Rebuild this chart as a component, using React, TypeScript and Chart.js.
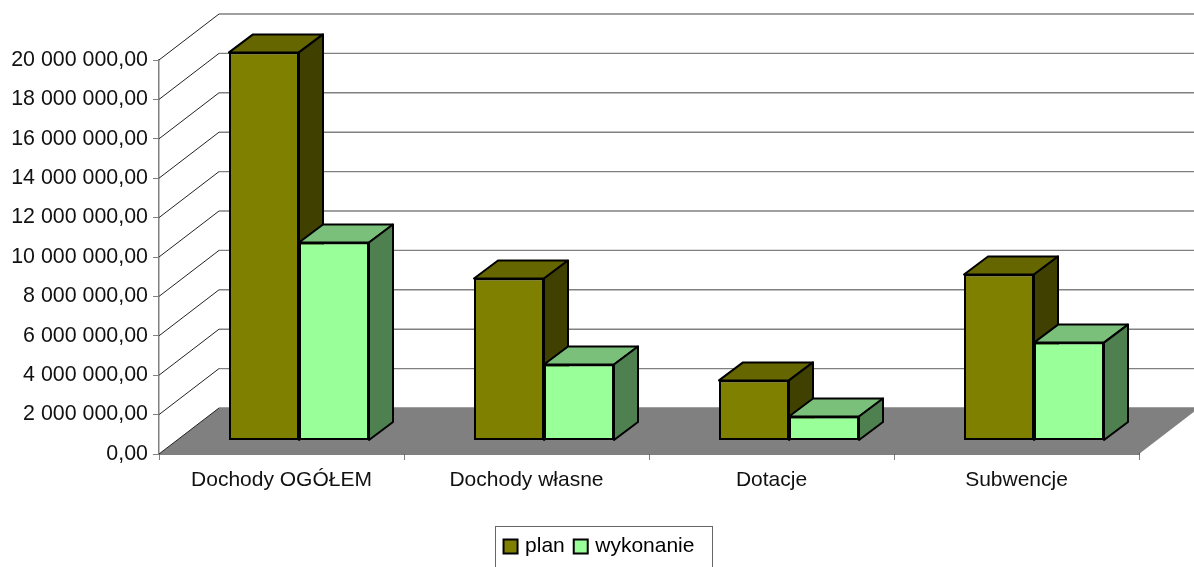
import React, { useEffect, useRef } from "react";
import { Chart, registerables } from "chart.js";

Chart.register(...registerables);

const categories = ["Dochody OGÓŁEM", "Dochody własne", "Dotacje", "Subwencje"];
const planValues = [19700000, 8220000, 3050000, 8430000];
const wykonanieValues = [10050000, 3860000, 1220000, 4970000];

const FONT = "'Liberation Sans', Arial, sans-serif";
const FONT_SIZE = 21;
const WALL_DX = 60;
const WALL_DY = 46;
const BAR_SHIFT_X = 17.5;
const BAR_SHIFT_Y = -13.5;
const BAR_DX = 24;
const BAR_DY = 18;
const BAR_LINE = 2;
const LEGEND_SHIFT = 31;
const faceColors = [
  { top: "#666600", side: "#404000" },
  { top: "#7ac07a", side: "#4f8050" },
];

const fmt = (v: number) => {
  const s = Math.round(v).toString().replace(/\B(?=(\d{3})+(?!\d))/g, " ");
  return s + ",00";
};

const poly = (ctx: CanvasRenderingContext2D, pts: number[][], fill?: string, stroke?: string, lw = 1) => {
  ctx.beginPath();
  pts.forEach((p, i) => (i ? ctx.lineTo(p[0], p[1]) : ctx.moveTo(p[0], p[1])));
  ctx.closePath();
  if (fill) {
    ctx.fillStyle = fill;
    ctx.fill();
  }
  if (stroke) {
    ctx.strokeStyle = stroke;
    ctx.lineWidth = lw;
    ctx.stroke();
  }
};

const walls3d = {
  id: "walls3d",
  afterLayout(chart: any) {
    chart.legend.left += LEGEND_SHIFT;
    chart.legend.right += LEGEND_SHIFT;
  },
  beforeDatasetsDraw(chart: any) {
    const { ctx, chartArea, scales } = chart;
    const { left, right, bottom } = chartArea;
    ctx.save();
    poly(
      ctx,
      [
        [left, bottom],
        [left + WALL_DX, bottom - WALL_DY],
        [right + WALL_DX, bottom - WALL_DY],
        [right, bottom],
      ],
      "#808080"
    );
    scales.y.ticks.forEach((t: any) => {
      const y = scales.y.getPixelForValue(t.value);
      ctx.strokeStyle = "#222222";
      ctx.lineWidth = 1;
      ctx.beginPath();
      ctx.moveTo(left, y);
      ctx.lineTo(left + WALL_DX, y - WALL_DY);
      ctx.stroke();
      ctx.strokeStyle = "#808080";
      ctx.lineWidth = 1.4;
      ctx.beginPath();
      ctx.moveTo(left + WALL_DX, y - WALL_DY);
      ctx.lineTo(chart.width, y - WALL_DY);
      ctx.stroke();
    });
    ctx.restore();

    // Bars: left bar of each pair first, so the right bar overlaps its side face.
    chart.data.datasets.forEach((_: any, index: number) => {
      const meta = chart.getDatasetMeta(index);
      const c = faceColors[index];
      ctx.save();
      ctx.translate(BAR_SHIFT_X, BAR_SHIFT_Y);
      ctx.lineJoin = "round";
      meta.data.forEach((el: any) => {
        const l = el.x - el.width / 2;
        const r = el.x + el.width / 2;
        const t = el.y;
        const b = el.base;
        poly(ctx, [[l, t], [l + BAR_DX, t - BAR_DY], [r + BAR_DX, t - BAR_DY], [r, t]], c.top, "#000", BAR_LINE);
        poly(ctx, [[r, t], [r + BAR_DX, t - BAR_DY], [r + BAR_DX, b - BAR_DY], [r, b]], c.side, "#000", BAR_LINE);
      });
      meta.controller.draw();
      ctx.restore();
    });
  },
  beforeDatasetDraw() {
    return false;
  },
  afterDraw(chart: any) {
    const { ctx } = chart;
    ctx.save();
    ctx.strokeStyle = "#666666";
    ctx.lineWidth = 1;
    ctx.strokeRect(495.5, 526.5, 217, 60);
    ctx.restore();
  },
};

export default function App() {
  const ref = useRef<HTMLCanvasElement>(null);
  useEffect(() => {
    const chart = new Chart(ref.current!, {
      type: "bar",
      data: {
        labels: categories,
        datasets: [
          {
            label: "plan",
            data: planValues,
            backgroundColor: "#808000",
            borderColor: "#000000",
            borderWidth: BAR_LINE,
            borderSkipped: false,
          },
          {
            label: "wykonanie",
            data: wykonanieValues,
            backgroundColor: "#99ff99",
            borderColor: "#000000",
            borderWidth: BAR_LINE,
            borderSkipped: false,
          },
        ] as any,
      },
      options: {
        responsive: false,
        animation: false,
        layout: { padding: { left: 0, right: 55, top: 60, bottom: 0 } },
        datasets: { bar: { categoryPercentage: 140 / 245, barPercentage: 1 } },
        scales: {
          x: {
            z: 1,
            afterFit: (s: any) => {
              s.height = 70;
            },
            grid: { drawOnChartArea: false, drawTicks: true, tickLength: 6, color: "#808080", offset: true },
            border: { color: "#000000", width: 1.5 },
            ticks: { color: "#111111", font: { family: FONT, size: FONT_SIZE }, padding: 8, maxRotation: 0 },
          },
          y: {
            min: 0,
            max: 20000000,
            afterFit: (s: any) => {
              s.width = 159;
            },
            grid: { drawOnChartArea: false, drawTicks: true, tickLength: 6, color: "#808080" },
            border: { color: "#808080", width: 1.5 },
            ticks: {
              stepSize: 2000000,
              color: "#111111",
              font: { family: FONT, size: 21.4 },
              padding: 5,
              callback: (v: any) => fmt(Number(v)),
            },
          },
        },
        plugins: {
          tooltip: { enabled: false },
          legend: {
            position: "bottom",
            labels: {
              usePointStyle: true,
              pointStyle: "rect",
              boxWidth: 8,
              boxHeight: 14,
              padding: 12,
              color: "#111111",
              font: { family: FONT, size: FONT_SIZE },
              generateLabels: (chart: any) =>
                chart.data.datasets.map((d: any, i: number) => ({
                  text: d.label,
                  fillStyle: d.backgroundColor,
                  strokeStyle: "#000000",
                  lineWidth: 2,
                  pointStyle: "rect",
                  datasetIndex: i,
                })),
            },
          },
        },
      } as any,
      plugins: [walls3d],
    });
    return () => chart.destroy();
  }, []);
  return (
    <div style={{ position: "absolute", left: 0, top: 0, width: 1194, height: 567, overflow: "hidden", background: "#fff" }}>
      <canvas ref={ref} width={1194} height={567} style={{ display: "block" }} />
    </div>
  );
}
